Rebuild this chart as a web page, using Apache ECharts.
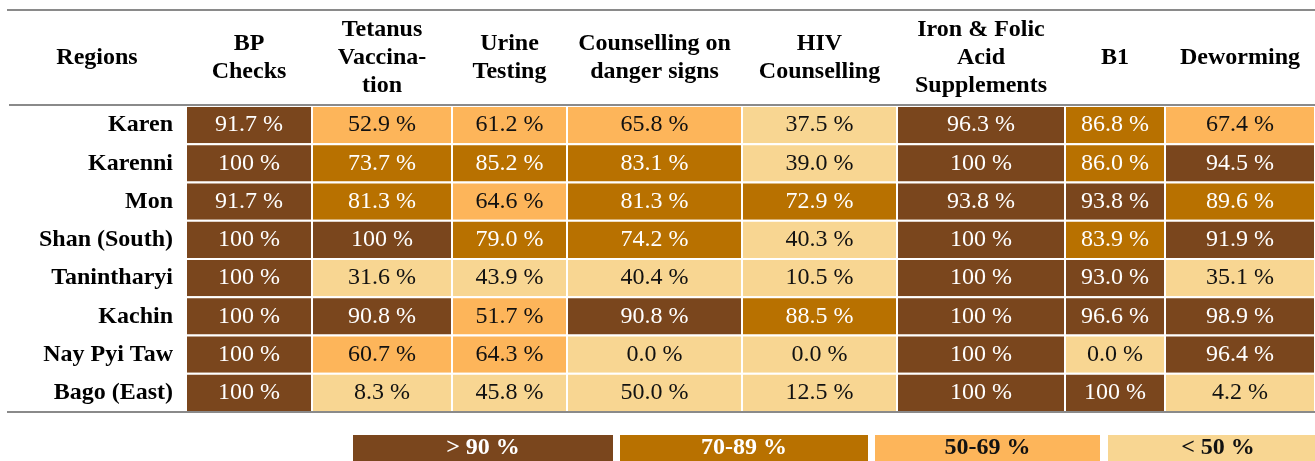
<!DOCTYPE html>
<html>
<head>
<meta charset="utf-8">
<script src="https://cdn.jsdelivr.net/npm/echarts@6/dist/echarts.min.js"></script>
<style>html,body{margin:0;padding:0;background:#fff}#c{width:1315px;height:461px}</style>
</head>
<body>
<div id="c"></div>
<script>
const regions = ['Karen','Karenni','Mon','Shan (South)','Tanintharyi','Kachin','Nay Pyi Taw','Bago (East)'];
const services = ['BP\nChecks','Tetanus\nVaccina-\ntion','Urine\nTesting','Counselling on\ndanger signs','HIV\nCounselling','Iron & Folic\nAcid\nSupplements','B1','Deworming'];
const bpChecks   = [91.7, 100, 91.7, 100, 100, 100, 100, 100];
const tetanus    = [52.9, 73.7, 81.3, 100, 31.6, 90.8, 60.7, 8.3];
const urine      = [61.2, 85.2, 64.6, 79.0, 43.9, 51.7, 64.3, 45.8];
const dangerSigns= [65.8, 83.1, 81.3, 74.2, 40.4, 90.8, 0.0, 50.0];
const hiv        = [37.5, 39.0, 72.9, 40.3, 10.5, 88.5, 0.0, 12.5];
const ironFolic  = [96.3, 100, 93.8, 100, 100, 100, 100, 100];
const b1         = [86.8, 86.0, 93.8, 83.9, 93.0, 96.6, 0.0, 100];
const deworming  = [67.4, 94.5, 89.6, 91.9, 35.1, 98.9, 96.4, 4.2];
const legendLabels = ['> 90 %', '70-89 %', '50-69 %', '< 50 %'];

// layout / style
const colWidths = [126, 140, 115, 175, 155, 168, 100, 150];
const colors = ['#7a461d', '#b87100', '#fdb55a', '#f8d692'];
const textColors = ['#ffffff', '#ffffff', '#111111', '#111111'];
const FONT = '"Liberation Serif", "Times New Roman", serif';
const FS = 24;

const columns = [bpChecks, tetanus, urine, dangerSigns, hiv, ironFolic, b1, deworming];
const colStart = [];
let acc = 0;
colWidths.forEach(w => { colStart.push(acc); acc += w; });
const totalW = acc;
const centers = colStart.map((s, i) => s + colWidths[i] / 2);

function level(v) {
  if (v >= 90) return 0;
  if (v >= 70) return 1;
  if (v > 50) return 2;
  return 3;
}
function fmt(v) { return (v === 100 ? '100' : v.toFixed(1)) + ' %'; }

const data = [];
columns.forEach((col, c) => col.forEach((v, r) => data.push([c, r, v])));

const chart = echarts.init(document.getElementById('c'));

const legendBoxes = [[353, 260], [620, 248], [875, 225], [1108, 220]];
const graphic = [];
[[7, 10], [9, 105], [7, 412]].forEach(([x, y]) => {
  graphic.push({type: 'line', z: 100, shape: {x1: x, y1: y, x2: 1315, y2: y}, style: {stroke: '#8a8a8a', lineWidth: 2}});
});
graphic.push({type: 'text', z: 100, style: {x: 97, y: 58, text: 'Regions', align: 'center', verticalAlign: 'middle', font: 'bold ' + FS + 'px ' + FONT, fill: '#000'}});
legendLabels.forEach((t, i) => {
  const [x, w] = legendBoxes[i];
  graphic.push({type: 'rect', shape: {x: x, y: 435, width: w, height: 30}, style: {fill: colors[i]}});
  graphic.push({type: 'text', style: {x: x + w / 2, y: 448, text: t, align: 'center', verticalAlign: 'middle', font: 'bold ' + FS + 'px ' + FONT, fill: textColors[i]}});
});

chart.setOption({
  animation: false,
  grid: {left: 186, right: 0, top: 106, bottom: 49},
  xAxis: {
    type: 'value', position: 'top', min: 0, max: totalW,
    splitLine: {show: false}, axisLine: {show: false}, axisTick: {show: false},
    axisLabel: {
      customValues: centers,
      formatter: v => { const i = centers.findIndex(c => Math.abs(c - v) < 0.01); return i >= 0 ? services[i] : ''; },
      fontFamily: FONT, fontWeight: 'bold', fontSize: FS, color: '#000',
      lineHeight: 28, verticalAlign: 'middle', margin: 48, showMinLabel: true, showMaxLabel: true
    }
  },
  yAxis: {
    type: 'category', data: regions, inverse: true,
    axisLine: {show: false}, axisTick: {show: false}, splitLine: {show: false},
    axisLabel: {fontFamily: FONT, fontWeight: 'bold', fontSize: FS, color: '#000', margin: 13}
  },
  visualMap: {
    show: false, type: 'piecewise', dimension: 2, seriesIndex: 0,
    pieces: [
      {gte: 90, color: colors[0]},
      {gte: 70, lt: 90, color: colors[1]},
      {gt: 50, lt: 70, color: colors[2]},
      {lte: 50, color: colors[3]}
    ]
  },
  graphic: graphic,
  series: [{
    type: 'custom',
    data: data,
    encode: {x: 0, y: 1},
    renderItem: function (params, api) {
      const c = api.value(0), r = api.value(1), v = api.value(2);
      const p0 = api.coord([colStart[c], r]);
      const p1 = api.coord([colStart[c] + colWidths[c], r]);
      const h = api.size([0, 1])[1];
      return {
        type: 'rect',
        shape: {x: p0[0], y: p0[1] - h / 2, width: p1[0] - p0[0], height: h},
        style: {fill: api.visual('color'), stroke: '#fff', lineWidth: 2},
        textContent: {style: {text: fmt(v), fill: textColors[level(v)], font: FS + 'px ' + FONT}},
        textConfig: {position: 'inside'}
      };
    }
  }]
});
</script>
</body>
</html>
